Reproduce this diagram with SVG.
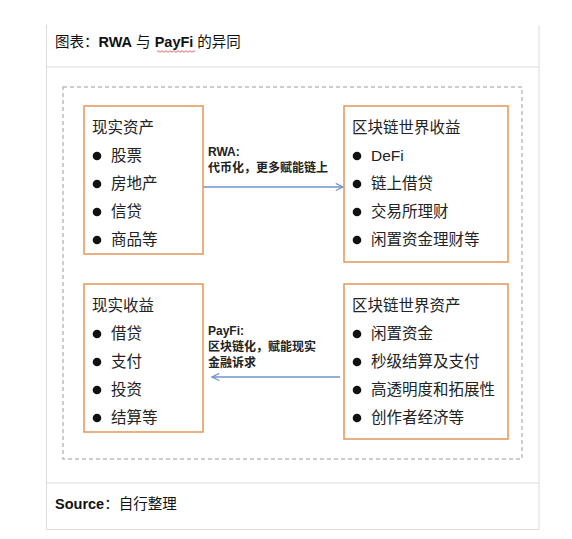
<svg xmlns="http://www.w3.org/2000/svg" width="572" height="539" viewBox="0 0 572 539">
<defs>
<style>
.frame{stroke:#dcdcdc;stroke-width:1;fill:none}
.box{fill:#fff;stroke:#e3965a;stroke-width:1.5}
.dash{fill:none;stroke:#bdbdbd;stroke-width:1.5;stroke-dasharray:4 3}
.t{font-family:"Liberation Sans","Noto Sans CJK SC",sans-serif;font-size:15.5px;fill:#222}
.hd{font-family:"Liberation Sans","Noto Sans CJK SC",sans-serif;font-size:14.5px;fill:#111}
.lb{font-family:"Liberation Sans","Noto Sans CJK SC",sans-serif;font-size:12px;font-weight:bold;fill:#222}
.b{font-weight:bold}
.dot{fill:#111}
.conn{stroke:#6f93cf;stroke-width:1.3;fill:none}
</style>
<marker id="ah" viewBox="0 0 10 10" refX="9" refY="5" markerWidth="9" markerHeight="9" markerUnits="userSpaceOnUse" orient="auto">
<path d="M1,1 L9,5 L1,9" fill="none" stroke="#6f93cf" stroke-width="1.3"/>
</marker>
</defs>
<rect width="572" height="539" fill="#fff"/>
<g id="frame">
<path class="frame" d="M46.5,25 V529.5 H539 V25 M46.5,67 H539 M46.5,483 H539"/>
<rect class="dash" x="63" y="87" width="459" height="372"/>
</g>
<g id="header">
<text class="hd" x="55" y="47">图表：<tspan class="b">RWA</tspan> 与 <tspan class="b">PayFi</tspan> 的异同</text>
<path d="M157,51.5 q1,-1.5 2,0 t2,0 t2,0 t2,0 t2,0 t2,0 t2,0 t2,0 t2,0 t2,0 t2,0 t2,0 t2,0 t2,0 t2,0 t2,0 t2,0 t2,0 t2,0" fill="none" stroke="#e04040" stroke-width="0.8"/>
</g>
<g id="connectors">
<line class="conn" x1="203" y1="187" x2="343" y2="187" marker-end="url(#ah)"/>
<line class="conn" x1="340" y1="377" x2="212" y2="377" marker-end="url(#ah)"/>
<text class="lb" x="208" y="156">RWA:</text>
<text class="lb" x="208" y="172">代币化，更多赋能链上</text>
<text class="lb" x="208" y="335">PayFi:</text>
<text class="lb" x="208" y="351">区块链化，赋能现实</text>
<text class="lb" x="208" y="367">金融诉求</text>
</g>
<g id="real-assets">
<rect class="box" x="84" y="106" width="119" height="148"/>
<text class="t" x="92" y="133">现实资产</text>
<circle class="dot" cx="97" cy="156" r="4.3"/><text class="t" x="111" y="161">股票</text>
<circle class="dot" cx="97" cy="184" r="4.3"/><text class="t" x="111" y="189">房地产</text>
<circle class="dot" cx="97" cy="212" r="4.3"/><text class="t" x="111" y="217">信贷</text>
<circle class="dot" cx="97" cy="240" r="4.3"/><text class="t" x="111" y="245">商品等</text>
</g>
<g id="chain-yield">
<rect class="box" x="344" y="106" width="164" height="156"/>
<text class="t" x="352" y="133">区块链世界收益</text>
<circle class="dot" cx="357" cy="156" r="4.3"/><text class="t" x="371" y="161">DeFi</text>
<circle class="dot" cx="357" cy="184" r="4.3"/><text class="t" x="371" y="189">链上借贷</text>
<circle class="dot" cx="357" cy="212" r="4.3"/><text class="t" x="371" y="217">交易所理财</text>
<circle class="dot" cx="357" cy="240" r="4.3"/><text class="t" x="371" y="245">闲置资金理财等</text>
</g>
<g id="real-yield">
<rect class="box" x="84" y="284" width="119" height="148"/>
<text class="t" x="92" y="311">现实收益</text>
<circle class="dot" cx="97" cy="334" r="4.3"/><text class="t" x="111" y="339">借贷</text>
<circle class="dot" cx="97" cy="362" r="4.3"/><text class="t" x="111" y="367">支付</text>
<circle class="dot" cx="97" cy="390" r="4.3"/><text class="t" x="111" y="395">投资</text>
<circle class="dot" cx="97" cy="418" r="4.3"/><text class="t" x="111" y="423">结算等</text>
</g>
<g id="chain-assets">
<rect class="box" x="344" y="284" width="164" height="155"/>
<text class="t" x="352" y="311">区块链世界资产</text>
<circle class="dot" cx="357" cy="334" r="4.3"/><text class="t" x="371" y="339">闲置资金</text>
<circle class="dot" cx="357" cy="362" r="4.3"/><text class="t" x="371" y="367">秒级结算及支付</text>
<circle class="dot" cx="357" cy="390" r="4.3"/><text class="t" x="371" y="395">高透明度和拓展性</text>
<circle class="dot" cx="357" cy="418" r="4.3"/><text class="t" x="371" y="423">创作者经济等</text>
</g>
<g id="footer">
<text class="hd" x="55" y="509"><tspan class="b">Source</tspan>：自行整理</text>
</g>
</svg>
